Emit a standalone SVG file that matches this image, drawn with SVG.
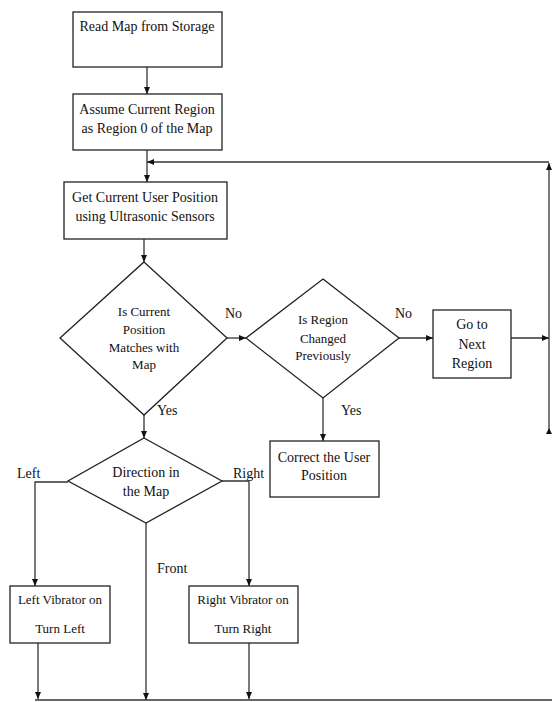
<svg xmlns="http://www.w3.org/2000/svg" width="552" height="702" viewBox="0 0 552 702">
<defs>
<marker id="ah" markerWidth="8" markerHeight="8" refX="7" refY="4" orient="auto" markerUnits="userSpaceOnUse">
<path d="M0,1 L7,4 L0,7 Z" fill="#111"/>
</marker>
<style>
.box{fill:#fff;stroke:#222;stroke-width:1.3}
.ln{fill:none;stroke:#333;stroke-width:1.3}
.t{font-family:"Liberation Serif","Times New Roman",serif;font-size:14px;fill:#111;text-anchor:middle}
.l{font-family:"Liberation Serif","Times New Roman",serif;font-size:14px;fill:#111}
.s{font-size:13px}
</style>
</defs>
<rect width="552" height="702" fill="#fff"/>
<g id="connectors">
<line class="ln" x1="147" y1="67" x2="147" y2="94" marker-end="url(#ah)"/>
<line class="ln" x1="147" y1="150" x2="147" y2="182" marker-end="url(#ah)"/>
<line class="ln" x1="549" y1="162" x2="147" y2="162" marker-end="url(#ah)"/>
<line class="ln" x1="549" y1="433" x2="549" y2="163" marker-end="url(#ah)"/>
<path d="M546,434 L549,428 L552,434 Z" fill="#111"/>
<line class="ln" x1="144" y1="239" x2="144" y2="262" marker-end="url(#ah)"/>
<line class="ln" x1="227" y1="338" x2="246" y2="338" marker-end="url(#ah)"/>
<line class="ln" x1="399" y1="338" x2="433" y2="338" marker-end="url(#ah)"/>
<line class="ln" x1="511" y1="338" x2="549" y2="338" marker-end="url(#ah)"/>
<line class="ln" x1="323" y1="398" x2="323" y2="441" marker-end="url(#ah)"/>
<line class="ln" x1="144" y1="415" x2="144" y2="438" marker-end="url(#ah)"/>
<polyline class="ln" points="68,482 35,482 35,586" marker-end="url(#ah)"/>
<polyline class="ln" points="222,481 249,481 249,586" marker-end="url(#ah)"/>
<line class="ln" x1="146" y1="523" x2="146" y2="700" marker-end="url(#ah)"/>
<line class="ln" x1="38" y1="643" x2="38" y2="699" marker-end="url(#ah)"/>
<line class="ln" x1="249" y1="643" x2="249" y2="699" marker-end="url(#ah)"/>
<line class="ln" x1="35" y1="700" x2="552" y2="700" stroke-width="1.6"/>
<text class="l" x="225" y="318">No</text>
<text class="l" x="395" y="318">No</text>
<text class="l" x="157" y="415">Yes</text>
<text class="l" x="341" y="415">Yes</text>
<text class="l" x="17" y="478">Left</text>
<text class="l" x="233" y="478">Right</text>
<text class="l" x="157" y="573">Front</text>
</g>
<g id="read-map">
<rect class="box" x="73" y="12" width="149" height="55"/>
<text class="t" x="147" y="31">Read Map from Storage</text>
</g>
<g id="assume-region">
<rect class="box" x="73" y="94" width="149" height="56"/>
<text class="t" x="147" y="114">Assume Current Region</text>
<text class="t" x="147" y="133">as Region 0 of the Map</text>
</g>
<g id="get-position">
<rect class="box" x="64" y="182" width="163" height="57"/>
<text class="t" x="145" y="202">Get Current User Position</text>
<text class="t" x="145" y="221">using Ultrasonic Sensors</text>
</g>
<g id="matches-map">
<polygon class="box" points="144,262 227,338 144,415 60,338"/>
<text class="t s" x="144" y="316">Is Current</text>
<text class="t s" x="144" y="334">Position</text>
<text class="t s" x="144" y="352">Matches with</text>
<text class="t s" x="144" y="369">Map</text>
</g>
<g id="region-changed">
<polygon class="box" points="323,279 399,338 323,398 246,338"/>
<text class="t s" x="323" y="324">Is Region</text>
<text class="t s" x="323" y="343">Changed</text>
<text class="t s" x="323" y="360">Previously</text>
</g>
<g id="next-region">
<rect class="box" x="433" y="310" width="78" height="68"/>
<text class="t" x="472" y="329">Go to</text>
<text class="t" x="472" y="349">Next</text>
<text class="t" x="472" y="368">Region</text>
</g>
<g id="correct-position">
<rect class="box" x="270" y="441" width="109" height="56"/>
<text class="t" x="324" y="462">Correct the User</text>
<text class="t" x="324" y="480">Position</text>
</g>
<g id="direction">
<polygon class="box" points="144,438 222,481 146,523 68,481"/>
<text class="t" x="146" y="477">Direction in</text>
<text class="t" x="146" y="496">the Map</text>
</g>
<g id="left-vibrator">
<rect class="box" x="10" y="586" width="100" height="57"/>
<text class="t s" x="60" y="604">Left Vibrator on</text>
<text class="t s" x="60" y="633">Turn Left</text>
</g>
<g id="right-vibrator">
<rect class="box" x="189" y="586" width="109" height="57"/>
<text class="t s" x="243" y="604">Right Vibrator on</text>
<text class="t s" x="243" y="633">Turn Right</text>
</g>
</svg>
